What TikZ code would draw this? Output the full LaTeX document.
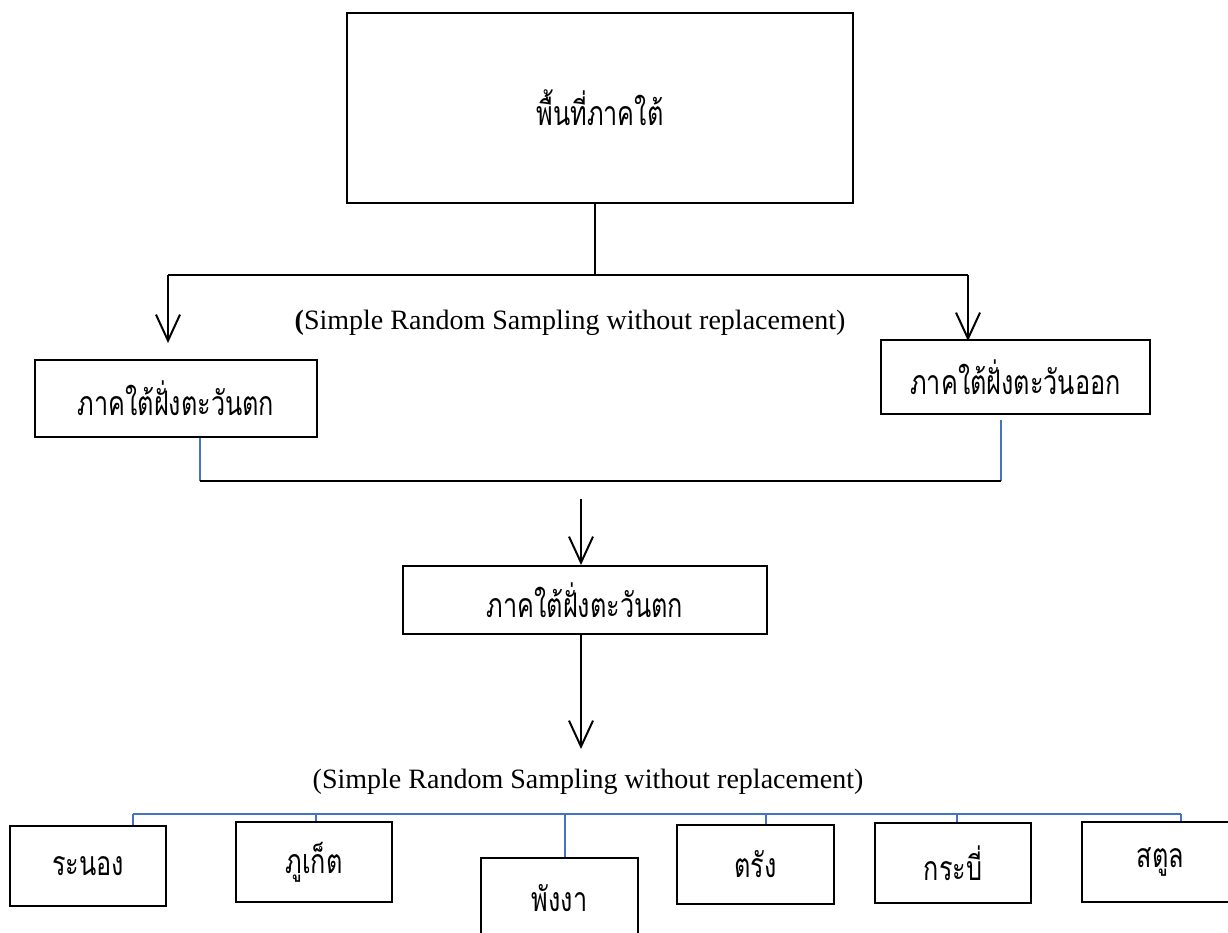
\documentclass[tikz,border=0pt]{standalone}
\usepackage{fontspec}
\usepackage{graphicx}
\setmainfont{Liberation Serif}
\newfontfamily\thaifont[Script=Thai]{Loma}
\newcommand\thtext[1]{\scalebox{0.97}[1.3]{#1}}
\usetikzlibrary{arrows.meta}
\definecolor{lineblue}{HTML}{4472C4}
\tikzset{
  box/.style={draw=black,line width=2pt,rectangle,inner sep=0pt,align=center,font=\thaifont\fontsize{26}{30}\selectfont},
  conn/.style={draw=black,line width=2pt},
  arr/.style={conn,-{Straight Barb[length=26pt,width=24pt,line width=2pt]}},
  blueline/.style={draw=lineblue,line width=1.6pt},
  eng/.style={font=\fontsize{28}{33}\selectfont,inner sep=0pt}
}
\begin{document}
\begin{tikzpicture}[x=1pt,y=-1pt]
\useasboundingbox (0,0) rectangle (1228,933);
\clip (0,0) rectangle (1228,933);
% boxes
\node[box,minimum width=506pt,minimum height=190pt] (top) at (600,108) {\thtext{พื้นที่ภาคใต้}};
\node[box,minimum width=282pt,minimum height=77pt] (west) at (176,398.5) {\thtext{ภาคใต้ฝั่งตะวันตก}};
\node[box,minimum width=269pt,minimum height=74pt] (east) at (1015.5,377) {\thtext{ภาคใต้ฝั่งตะวันออก}};
\node[box,minimum width=364pt,minimum height=68pt] (mid) at (585,600) {\thtext{ภาคใต้ฝั่งตะวันตก}};
\node[box,minimum width=156pt,minimum height=80pt] (ranong) at (88,866) {\thtext{ระนอง}};
\node[box,minimum width=156pt,minimum height=80pt] (phuket) at (314,862) {\thtext{ภูเก็ต}};
\node[box,minimum width=157pt,minimum height=80pt] (phangnga) at (559.5,898) {\thtext{พังงา}};
\node[box,minimum width=157pt,minimum height=79pt] (trang) at (755.5,864.5) {\thtext{ตรัง}};
\node[box,minimum width=156pt,minimum height=80pt] (krabi) at (953,863) {\thtext{กระบี่}};
\node[box,minimum width=157pt,minimum height=80pt] (satun) at (1160.5,862) {\thtext{สตูล}};
% labels
\node[eng] (lab1) at (570,323) {\textbf{(}Simple Random Sampling without replacement)};
\node[eng] (lab2) at (588,782) {(Simple Random Sampling without replacement)};
% top split
\coordinate (split) at (595,275);
\coordinate (splitL) at (168,275);
\coordinate (splitR) at (968,275);
\coordinate (tipL) at (168,343);
\coordinate (tipR) at (968,341);
\draw[conn] (top.south -| split) -- (split);
\draw[conn] (splitL) -- (splitR);
\draw[arr] (splitL) -- (tipL);
\draw[arr] (splitR) -- (tipR);
% merge
\coordinate (mL) at (200,481);
\coordinate (mR) at (1001,481);
\coordinate (eastStart) at (1001,420);
\draw[blueline] (west.south -| mL) -- (mL);
\draw[blueline] (eastStart) -- (mR);
\draw[conn] (mL) -- (mR);
\coordinate (midStart) at (581,499);
\draw[arr] (midStart) -- (mid.north -| midStart);
\coordinate (midTip) at (581,749);
\draw[arr] (mid.south -| midStart) -- (midTip);
% bottom distribution
\coordinate (bL) at (133,814);
\coordinate (bR) at (1181,814);
\draw[blueline] (bL) -- (bR);
\draw[blueline] (bL) -- (ranong.north -| bL);
\draw[blueline] (316,814) -- (phuket.north -| 316,0);
\draw[blueline] (565,814) -- (phangnga.north -| 565,0);
\draw[blueline] (766,814) -- (trang.north -| 766,0);
\draw[blueline] (957,814) -- (krabi.north -| 957,0);
\draw[blueline] (bR) -- (satun.north -| bR);
\end{tikzpicture}
\end{document}
